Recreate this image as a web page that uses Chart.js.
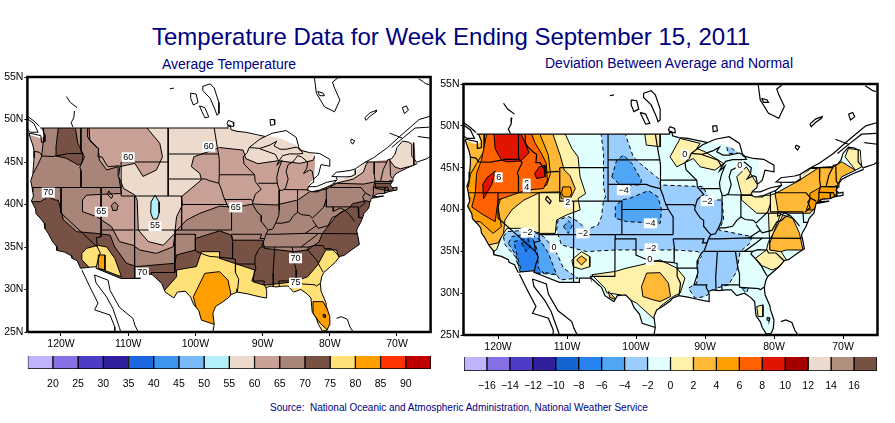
<!DOCTYPE html>
<html>
<head>
<meta charset="utf-8">
<title>Temperature Data for Week Ending September 15, 2011</title>
<script src="https://cdn.jsdelivr.net/npm/chart.js@4"></script>
<style>
  html, body { margin: 0; padding: 0; background: #fff; }
  body { width: 895px; height: 423px; position: relative; overflow: hidden; font-family: "Liberation Sans", Arial, sans-serif; color: #000080; }
  canvas { position: absolute; }
  .txt { position: absolute; white-space: pre; }
  #title { left: 152px; top: 23px; font-size: 24px; }
  #subLeft { left: 162px; top: 56px; font-size: 14px; }
  #subRight { left: 545px; top: 55px; font-size: 14px; }
  #source { left: 270px; top: 402px; font-size: 10px; }
</style>
</head>
<body>
<div class="txt" id="title">Temperature Data for Week Ending September 15, 2011</div>
<div class="txt" id="subLeft">Average Temperature</div>
<div class="txt" id="subRight">Deviation Between Average and Normal</div>
<div class="txt" id="source">Source:  National Oceanic and Atmospheric Administration, National Weather Service</div>
<canvas id="mapLeft" width="440" height="300" style="left:0;top:60px"></canvas>
<canvas id="mapRight" width="450" height="300" style="left:440px;top:60px"></canvas>
<canvas id="barLeft" width="445" height="40" style="left:0;top:350px"></canvas>
<canvas id="barRight" width="450" height="40" style="left:440px;top:350px"></canvas>
<script>
// axis ticks
const lonTicks = [-120, -110, -100, -90, -80, -70];
const latTicks = [25, 30, 35, 40, 45, 50, 55];

// colour bars
const tempBreaks = [15, 20, 25, 30, 35, 40, 45, 50, 55, 60, 65, 70, 75, 80, 85, 90, 95];
const tempColors = ["#bfb3fd", "#8770e6", "#4d3cc4", "#30209e", "#1c66e0", "#3c96f0", "#78b9fa", "#b4f0fa",
  "#ecdacd", "#c8a096", "#a98478", "#785145", "#ffe178", "#ffa000", "#ff3200", "#c00000"];
const devBreaks = [-18, -16, -14, -12, -10, -8, -6, -4, -2, 0, 2, 4, 6, 8, 10, 12, 14, 16, 18];
const devColors = ["#bfb3fd", "#8770e6", "#4d3cc4", "#30209e", "#1464d2", "#2882f0", "#50a5f5", "#9bcdff", "#e1ffff",
  "#fff0aa", "#ffb937", "#ffa000", "#ff6000", "#e11400", "#a50000", "#ecdacd", "#b0907f", "#785145"];

// coasts and borders, lon/lat
const pacificCoast = [[-124.7,48.2],[-124.6,47.9],[-124.2,47],[-124,46.3],[-124,45.5],[-124.1,44.5],[-124.2,43.5],[-124.5,42.8],[-124.3,42],[-124.2,41.5],[-124.1,41],[-124.4,40.4],[-123.8,39.5],[-123.7,38.9],[-123,38.3],[-122.5,37.8],[-122.4,37.2],[-121.9,36.6],[-121.3,35.7],[-120.7,35.1],[-120.6,34.6],[-119.5,34.4],[-118.5,34],[-118.4,33.7],[-117.6,33.4],[-117.1,32.5]];
const pacificNorth = [[-124.7,48.4],[-124.7,48.2]];
const mexicoBorder = [[-117.1,32.5],[-114.7,32.7],[-114.8,32.5],[-111.1,31.3],[-108.2,31.3],[-108.2,31.8],[-106.5,31.8],[-105,30.7],[-104.5,29.7],[-103.2,29],[-102.7,29.7],[-101.5,29.8],[-100.7,29.1],[-100.3,28.3],[-99.5,27.5],[-99.1,26.4],[-97.2,25.9]];
const gulfCoast = [[-97.2,25.9],[-97.4,27.2],[-97,28],[-96,28.5],[-95,29.1],[-94.7,29.4],[-93.8,29.7],[-92.3,29.5],[-91.3,29.3],[-90.2,29.1],[-89.4,29],[-89.4,29.9],[-89.5,30.2],[-88.9,30.4],[-88,30.3],[-87,30.4],[-86.2,30.4],[-85.4,29.7],[-84.3,30],[-83.4,29.5],[-82.8,29],[-82.7,28],[-82.6,27.3],[-82,26.6],[-81.7,25.9],[-81.1,25.1],[-80.4,25.2]];
const atlanticCoast = [[-80.4,25.2],[-80.1,25.8],[-80,26.8],[-80.5,28],[-80.6,28.5],[-81.3,29.8],[-81.4,30.7],[-81.2,31.5],[-80.9,32],[-79.9,32.7],[-79.2,33.2],[-78.5,33.9],[-77.9,34],[-76.7,34.7],[-75.6,35.3],[-75.8,36.2],[-76,36.9],[-75.9,37.2],[-75.4,37.9],[-75.1,38.5],[-74.9,38.95],[-74.2,39.6],[-74,40.4],[-73.9,40.7],[-72,41],[-73.7,40.9],[-72.9,41.25],[-71.9,41.3],[-71.3,41.5],[-70.7,41.6],[-70,41.7],[-70,42.05],[-70.6,41.95],[-71,42.3],[-70.7,42.7],[-70.6,43.1],[-70.2,43.6],[-69.5,43.9],[-68.5,44.3],[-67,44.8]];
const maskNorthEdge = [[-67.2,44.9],[-67.4,47.3],[-69.2,47.4],[-70.9,45.3],[-74.8,45],[-76.2,43.7],[-79,42.7],[-81,41.9],[-83,41.5],[-83.2,42.3],[-82.4,43],[-82.2,44.6],[-82.2,45.8],[-84,46.5],[-85,47],[-87.5,47.8],[-89,48],[-91,48.1],[-93,48.6],[-95.2,49],[-122.8,49],[-122.6,48],[-123.1,47.8],[-124.7,48.2]];
const maskFrame = [[-126,48.2],[-126,56],[-64,56],[-64,24],[-126,24],[-126,48.2],[-124.7,48.2]];
const canadaBorder = [[-67,44.9],[-67.4,45.3],[-67.8,45.7],[-67.8,47.1],[-68.3,47.35],[-69.2,47.45],[-70,46.7],[-70.3,45.9],[-70.8,45.4],[-71.4,45.25],[-71.5,45],[-74.7,45]];
const border49 = [[-95.15,48.95],[-95.15,49.35],[-94.8,49.3],[-94.7,48.8],[-93.8,48.6],[-92.5,48.5],[-90.8,48.2],[-89.6,48]];
const border49West = [[-95.15,49],[-123.1,49]];
const pugetSound = [[-122.8,49],[-122.4,48.2],[-122.4,47.4],[-122.9,47.3],[-123,48.1],[-124.7,48.4]];
const vancouverIsland = [[-125,50.1],[-124,49.5],[-123.4,48.5],[-124.5,48.5],[-125,48.8]];
const bcCoast = [[-123.2,49.2],[-124,49.8],[-125,50.4]];
const lakeOntario = [[-76.2,44.1],[-76.2,43.55],[-76.8,43.3],[-77.6,43.25],[-79.05,43.27],[-79.7,43.3],[-79,43.8],[-77,44],[-76.2,44.2],[-74.7,45]];
const lakeErie = [[-79.05,43.27],[-78.9,42.9],[-79.8,42.25],[-80.1,42.15],[-81.2,41.8],[-81.7,41.5],[-82.7,41.5],[-83.4,41.7],[-83.1,42.2],[-82.5,42.6],[-82.4,43]];
const lakeErieNorth = [[-83.1,42.1],[-82,42.1],[-80.5,42.6],[-79,42.85]];
const lakeHuronWest = [[-82.4,43],[-82.6,43.9],[-83,44.05],[-83.9,43.65],[-83.4,44.3],[-83.3,45],[-84.2,45.6],[-84.8,45.75]];
const lakeHuronEast = [[-82.4,43],[-81.7,43.5],[-81.3,44.7],[-80,44.5],[-80,45.3],[-81.5,46],[-83,46.1],[-84.5,46.4]];
const lakeMichigan = [[-84.8,45.75],[-85.1,45.4],[-85.5,45],[-86.2,44.7],[-86.5,43.9],[-86.2,43],[-86.6,41.9],[-87.1,41.65],[-87.5,41.7],[-87.8,42.4],[-87.9,43.2],[-87.6,44.2],[-87.1,45.2],[-87.9,44.6],[-87.6,45.1],[-87,45.75],[-86,45.95],[-84.8,45.95],[-84,46],[-84.4,46.5]];
const lakeSuperiorSouth = [[-84.4,46.5],[-85,46.75],[-86.5,46.5],[-87.4,46.5],[-88.3,46.9],[-87.9,47.45],[-88.9,47],[-90.4,46.6],[-92,46.7]];
const lakeSuperiorNorth = [[-92,46.7],[-90.4,47.7],[-89.6,48],[-88.5,48.4],[-86.5,48.7],[-85,47.9],[-84.7,47],[-84.5,46.4]];
const stLawrenceNorth = [[-74.7,45],[-73.5,45.5],[-71.4,46.7],[-69.6,48],[-66.7,50],[-65,50.4]];
const stLawrenceSouth = [[-70.8,46.7],[-69,47.9],[-67.3,49],[-65.2,49.1]];
const saguenay = [[-71.1,48.4],[-69.2,47.8]];
const chaleurBay = [[-66.9,48],[-65,47.8]];
const fundy = [[-67,45],[-65.5,45.4],[-65,45.7]];
const jamesBay = [[-82.3,55],[-82,53.1],[-80.8,51.5],[-79.3,50.9],[-78.5,52.3],[-79.3,53.7],[-79.6,54.4],[-78.8,54.9]];
const akimiski = [[-81.8,53.3],[-81,53.1],[-80.8,52.8],[-81.5,52.8],[-81.8,53.3]];
const lakeWinnipeg = [[-98.9,53.9],[-97.8,54.2],[-97.2,53.7],[-96.5,52],[-96.5,50.7],[-96.8,50.5],[-97,51],[-97.8,52.5],[-98.9,53.4],[-98.9,53.9]];
const lakeManitoba = [[-99.4,51.6],[-98.6,51.4],[-98,50.3],[-98.6,50.2],[-99,50.9],[-99.4,51.6]];
const lakeWinnipegosis = [[-100.7,53.1],[-99.9,53],[-99.6,52],[-100.3,51.7],[-100.7,52.5],[-100.7,53.1]];
const lakeOfTheWoods = [[-95.1,49.9],[-94.4,49.7],[-94.3,49.2],[-95,49.2],[-95.3,49.5],[-95.1,49.9]];
const lakeNipigon = [[-88.9,50],[-88.3,50],[-88.2,49.4],[-88.8,49.3],[-88.9,50]];
const lakeGouin = [[-76.8,47.7],[-76.3,47.5],[-76.6,47.1],[-76.9,47.4],[-76.8,47.7]];
const lakeMistassini = [[-74.8,50.2],[-74,50.8],[-73,51.1],[-73.1,50.9],[-74,50.4],[-74.6,49.9],[-74.8,50.2]];
const manicouagan = [[-69.2,51.4],[-68.6,51.6],[-68.3,51.1],[-68.9,50.7],[-69.2,51.4]];
const labradorLakes = [[-66.8,54.8],[-66.2,54.5],[-65.7,54.2],[-65.2,54.1]];
const arrowLakes = [[-119.2,52.7],[-118.6,52],[-117.6,51.4]];
const arrowLakesSouth = [[-118,51],[-118.1,50.2],[-118.5,49.6],[-118.2,49.1]];
const smallLake = [[-103.8,53.6],[-103.2,53.7]];
const greatSaltLake = [[-112.9,41.6],[-112.3,41],[-112.5,40.7],[-113.1,41.2],[-112.9,41.6]];
const okeechobee = [[-81,27.1],[-80.6,27],[-80.7,26.7],[-81,26.8],[-81,27.1]];
const bajaWest = [[-116.9,32.3],[-115.7,30.3],[-114.5,28.4],[-115,27.6],[-112.7,27],[-112,25.6],[-112,25]];
const bajaEast = [[-115,31.7],[-114.8,30.8],[-113.2,29.1],[-112.3,27.8],[-111.3,25.5],[-111.1,25]];
const mexicoWestCoast = [[-115,31.7],[-113,31.1],[-112.7,29.9],[-111.3,27.9],[-109.3,26.6],[-109,25.8],[-108.5,25]];
const mexicoGulf = [[-97.2,25.9],[-97.4,25]];
const bahamasA = [[-79,26.6],[-78.3,26.8],[-77.4,26.5],[-77,25.6],[-76.5,25]];

// state lines, lon/lat
const stateLines = [
  [[-124,46.25],[-123.2,46.15],[-122.8,45.7],[-121.2,45.65],[-119.3,45.93],[-119,46],[-116.92,46]],
  [[-117.03,49],[-117.04,46.4],[-116.92,46],[-116.5,45.6],[-117.2,44.4],[-117.03,44],[-117.03,42]],
  [[-124.2,42],[-111.05,42]],
  [[-120,42],[-120,39],[-114.6,35],[-114.15,34.3],[-114.5,33.5],[-114.72,32.72]],
  [[-114.04,42],[-114.04,36.2],[-114.74,36.1],[-114.6,35]],
  [[-114.04,37],[-94.62,37]],
  [[-109.05,41],[-109.05,31.33]],
  [[-111.05,45],[-104.05,45],[-104.05,41],[-111.05,41],[-111.05,45]],
  [[-116.05,49],[-116.05,48],[-115.7,47.5],[-114.8,46.8],[-114.4,46.6],[-114.5,45.6],[-113.9,45.6],[-113.4,44.9],[-113,44.45],[-111.5,44.55],[-111.05,44.5]],
  [[-104.05,49],[-104.05,45]],
  [[-104.05,45.94],[-96.56,45.94]],
  [[-104.05,43],[-98.5,43],[-97.9,42.8],[-96.5,42.5]],
  [[-104.05,41],[-102.05,41],[-102.05,37]],
  [[-102.05,40],[-95.3,40]],
  [[-103,37],[-103,36.5],[-100,36.5],[-100,34.56],[-99,34.2],[-97.9,33.9],[-96.5,33.8],[-94.48,33.64]],
  [[-103.04,36.5],[-103.06,32],[-106.6,32],[-106.53,31.78]],
  [[-94.48,33.64],[-94.04,33.55],[-94.04,32],[-93.55,31.2],[-93.7,30.1],[-93.8,29.7]],
  [[-94.04,33],[-91.15,33]],
  [[-94.62,36.5],[-94.43,35.4],[-94.48,33.64]],
  [[-94.62,36.5],[-90.15,36.5],[-90.37,36],[-89.7,36]],
  [[-94.62,37],[-94.62,39.1],[-95.3,40],[-95.85,41],[-96.1,41.7],[-96.5,42.5],[-96.45,43.5],[-96.45,45.3],[-96.56,45.94],[-96.8,47],[-97.2,49]],
  [[-95.77,40.58],[-91.73,40.6],[-91.42,40.38]],
  [[-96.45,43.5],[-91.2,43.5]],
  [[-92,46.7],[-92.3,46.1],[-92.9,45.6],[-92.75,44.75],[-91.2,43.5],[-91.1,42.7],[-90.2,41.8],[-91.1,41.2],[-91.42,40.38],[-91.5,40],[-90.7,39],[-90.2,38.7],[-90.2,38],[-89.5,37.3],[-89.15,37],[-89.5,36.5],[-89.7,36],[-90.1,35.1],[-90.6,34.7],[-91.1,33.9],[-91.15,33],[-91,32.5],[-91.6,31],[-89.75,31],[-89.8,30.6],[-89.5,30.2]],
  [[-90.64,42.5],[-87.8,42.5]],
  [[-90.4,46.55],[-88.1,45.9],[-87.6,45.1]],
  [[-87.53,41.7],[-87.53,39.3],[-87.6,38.7],[-88.05,37.8]],
  [[-89.15,37],[-88.5,37.1],[-88.05,37.8],[-87.1,37.8],[-86,38],[-85.4,38.7],[-84.8,39.1],[-84.2,38.8],[-83,38.7],[-82.6,38.4],[-81.8,39],[-80.9,39.7],[-80.52,40.64],[-80.52,42]],
  [[-84.8,39.1],[-84.8,41.76]],
  [[-86.8,41.76],[-83.4,41.73]],
  [[-79.76,42.27],[-79.76,42],[-75.35,42],[-74.7,41.36],[-73.9,41]],
  [[-74.7,41.36],[-75.1,40.9],[-74.75,40.2],[-75.5,39.7]],
  [[-80.52,39.72],[-75.8,39.72],[-75.7,38.46],[-75.05,38.45]],
  [[-80.52,40.64],[-80.52,39.72]],
  [[-79.48,39.72],[-79.48,39.2],[-78.4,39.6],[-77.7,39.3],[-77.05,38.8],[-76.3,38]],
  [[-77.7,39.3],[-78.4,39.1],[-78.9,38.7],[-79.6,38.5],[-80.3,37.5],[-81.7,37.2],[-82,37.5],[-82.6,38.2]],
  [[-82,37.5],[-83.68,36.6]],
  [[-75.9,36.55],[-81.7,36.59],[-83.68,36.6],[-88.05,36.5],[-89.5,36.5]],
  [[-81.7,36.59],[-82.6,36],[-84.3,35],[-90.1,35]],
  [[-84.3,35],[-83.1,35],[-82.3,35.2],[-81,35.15],[-80.8,34.8],[-79.7,34.8],[-78.55,33.87]],
  [[-83.1,35],[-83.35,34.7],[-82,33.5],[-81.4,32.6],[-81,32.05]],
  [[-85.6,35],[-85.2,32.9],[-85,32.3],[-85,30.7]],
  [[-87.6,31],[-85,31]],
  [[-85,30.7],[-84.86,30.7],[-82.2,30.55],[-82,30.4],[-81.45,30.7]],
  [[-88.2,35],[-88.45,31.9],[-88.4,30.3]],
  [[-87.6,31],[-87.5,30.3]],
  [[-73.35,45],[-73.4,43.6],[-73.25,42.75],[-73.5,42.05],[-73.5,41.3],[-73.65,41]],
  [[-73.5,42.05],[-71.8,42.02],[-71.38,42.02],[-71.2,41.5]],
  [[-73.25,42.75],[-71.3,42.7],[-70.8,42.87]],
  [[-71.5,45],[-72.05,44.1],[-72.45,42.73]],
  [[-71.05,45.3],[-70.97,43.4],[-70.7,43.07]],
  [[-71.8,42.02],[-71.85,41.32]]
];

// average temperature contours, lon/lat
const temp60Area = [[-115.9,50],[-66,50],[-66,42.7],[-70.6,42.7],[-73.05,42.7],[-75,42.4],[-79,42.5],[-80.5,41.8],[-83,41.5],[-84.75,40.53],[-88,39.94],[-91.4,40.06],[-94,39.67],[-96.4,39.8],[-99.35,38.96],[-101.3,38.18],[-102.97,36.8],[-103.3,35.04],[-105.8,34.25],[-108.3,34.65],[-109.26,35.2],[-111.3,35.63],[-112.5,37.4],[-114.7,38.57],[-116.8,39.16],[-116.8,40.53],[-116.2,41.1],[-113.7,41.2],[-111,41.3],[-111.4,43.3],[-111.5,44.45],[-113.2,44.06],[-114.3,45.24],[-114.45,46.6],[-115.7,47.6]];
const temp60Coast = [[-125.5,50],[-122.6,50],[-122.6,47.6],[-122.9,45.6],[-123.5,44.6],[-124.1,43.7],[-125.5,43.7]];
const temp65Utah = [[-112,40.3],[-111.5,39.9],[-111.7,39.3],[-112.3,39.3],[-112.5,39.9]];
const tempPaleNorth = [[-108.27,50],[-105.3,47.2],[-104.9,45.6],[-105.8,44.06],[-107.8,43.3],[-109,44.84],[-111.24,44.45],[-111.4,43.3],[-110.7,41.9],[-109,41.1],[-108.66,40.5],[-108.5,37],[-107,35.63],[-104.8,35.2],[-103.07,36.6],[-102.8,38.57],[-101.93,39.94],[-102.1,40.9],[-99.1,42.9],[-99.35,43.67],[-100.6,44.45],[-100.25,45.6],[-96.4,46.7],[-92.9,46.4],[-92.5,45.4],[-90.7,44.8],[-87.7,45.15],[-84.5,44.84],[-82.5,45.2],[-82,46],[-82,50]];
const tempPaleNY = [[-79.3,42.45],[-76.5,43],[-75,43.8],[-74.6,44.7],[-74.2,45.2],[-76,45],[-80,43]];
const tempPaleMaine = [[-71.1,45.2],[-69.4,47.5],[-67.5,47.5],[-67.5,44.6],[-69.5,44.2],[-70.3,44.4]];
const tempCyanOval = [[-106,41.1],[-105.4,40.3],[-105.4,39],[-105.7,38.3],[-106.3,38.3],[-106.65,39],[-106.6,40.3]];
const tempDarkNorthwest = [[-120.25,50],[-118.07,50],[-117.5,47.2],[-116.7,45.94],[-116.9,44.84],[-117.4,44.65],[-119.2,45.43],[-120.6,45.7],[-120.74,46.8]];
const tempDarkSouth = [[-123.1,40.33],[-121.9,40.9],[-120.9,40.53],[-120.4,40.5],[-119.65,38.2],[-117.67,36.8],[-114.7,36.6],[-112.7,36.4],[-112,35],[-110.25,33.08],[-108.76,32.7],[-107.3,32.8],[-103.07,33.08],[-102.8,34.06],[-100,34.65],[-100,36],[-96.4,36.9],[-94.7,36.4],[-94.4,35.8],[-90,35.8],[-89.7,34.84],[-85.3,34.45],[-83.3,34.65],[-81.6,35.6],[-81.1,36.6],[-78.9,38.77],[-77.1,39.6],[-76.6,40.1],[-74.6,40.45],[-73,40],[-72,38],[-72,24],[-127,24],[-127,40.33]];
const tempDarkNewEngland = [[-73.2,41.9],[-73.2,42.5],[-70.8,42.5],[-70.5,41.5]];
const tempYellowSouthwest = [[-116.9,34.25],[-116.2,34.84],[-114.5,35.2],[-113.2,35],[-112,33.67],[-111,31.5],[-113.7,32.3],[-115.7,32.5],[-116.9,33.5]];
const tempOrangeSouthwest = [[-114.45,34.06],[-113.46,34.06],[-113.46,32.3],[-114.45,32.5]];
const tempYellowGulf = [[-104.55,29.94],[-102.8,31.5],[-102.8,32.3],[-99.85,32.7],[-99.1,34.45],[-96.4,34.45],[-96.4,33.67],[-94.2,33.08],[-91.2,32.3],[-91.4,30.9],[-89.7,30.5],[-85.3,30.9],[-83.3,31.5],[-81.8,32.9],[-80.6,34.65],[-79,34.65],[-78.7,33.86],[-70,33],[-70,24],[-107,24],[-107,28]];
const tempOrangeTexas = [[-100.3,29.15],[-98.6,31.9],[-96.4,32.1],[-95.15,31.1],[-94.7,29.35],[-94.7,28],[-97,25],[-99,25]];
const tempOrangeFlorida = [[-82.5,28.57],[-81,28.57],[-79.5,26.4],[-80,25],[-81.4,26],[-82.5,27.2]];

// deviation contours, lon/lat
const devWarmWest = [[-110.8,50],[-109.3,47.3],[-108.4,46.3],[-108.1,43.9],[-107.3,41.9],[-108.4,41.3],[-108.1,39.95],[-110.05,39.35],[-111.5,38.75],[-111.7,37.15],[-113.9,37.15],[-116.3,37.75],[-118.7,37.75],[-119.5,36.75],[-120.2,35.2],[-121.5,34.5],[-126,34.5],[-126,50]];
const devAmberWest = [[-112.46,50],[-111,46.5],[-110.4,44.7],[-109.6,44.1],[-108.8,42.5],[-109.6,41.15],[-110.8,41.3],[-111,42.1],[-113.9,42.05],[-116.3,41.1],[-118,39.95],[-119,38.75],[-119.2,37.15],[-120,36],[-121.2,35.8],[-126,35.8],[-126,50]];
const devOrangeOval = [[-110.6,42.7],[-109.5,42.7],[-109.3,42],[-109.6,41.5],[-110.5,41.5],[-110.8,42]];
const devOrangeWest = [[-114.4,50],[-112.7,46.5],[-112.4,44.3],[-112.95,42.9],[-115.4,42.3],[-118.75,42],[-119.7,41.1],[-120,40.3],[-119.5,37.95],[-120.7,37.15],[-122.6,38.55],[-126,38.55],[-126,50]];
const devAmberCoast = [[-126,50],[-122,50],[-122,47],[-123.1,45.5],[-124,44.2],[-124.3,42.7],[-126,42.7]];
const devRedOrange = [[-121.4,50],[-122.4,45.9],[-123.1,44.3],[-123.3,41.9],[-123.8,40.3],[-122.1,39.35],[-120.4,38.55],[-120,41.14],[-115.85,42.33],[-113.4,42.5],[-112.85,43.5],[-113,45.5],[-113.7,46.7],[-114.6,47.9],[-115.6,50]];
const devRedNorth = [[-120.7,50],[-120.4,47.2],[-119.5,45.9],[-118.7,45.7],[-116.7,45.8],[-115.5,46.8],[-116.1,48],[-117.2,50]];
const devRedTip = [[-121.6,43.8],[-120.4,44.6],[-120.9,43],[-122.1,41.3],[-122.2,43]];
const devRedBlob = [[-114.7,44.3],[-114,45.1],[-113.2,45.3],[-113.2,43.9],[-114.4,43.7]];
const devYellowDakota = [[-98.9,50],[-96.5,50],[-96.5,47.5],[-98.5,47.7]];
const devBlueBig = [[-105.2,50],[-104.7,46.7],[-104.7,42.7],[-104.4,41.5],[-104.7,41.14],[-105,39.15],[-105.5,38.15],[-107.2,37.55],[-108.35,38.55],[-109.8,39.15],[-111.3,38.75],[-111.5,37.55],[-110.8,35.76],[-107.15,34.97],[-103,35.16],[-99.9,35.16],[-96.5,35.16],[-94.35,35.16],[-91,34.97],[-90.5,34.37],[-90.97,33.97],[-91.2,31.18],[-92.4,30.6],[-91.45,29.4],[-90,29.6],[-88.3,30.6],[-86.6,31],[-85.4,32.6],[-84.9,34.96],[-83.5,35.96],[-83.2,36.76],[-88,37.55],[-87.3,38.75],[-87.5,41.14],[-89.5,41.14],[-90.2,42.73],[-96.5,42.93],[-96.5,43.53],[-99.4,45.5],[-100.4,46.3],[-101.35,48.5],[-101.8,50]];
const devCentralOval = [[-103.5,43.9],[-102.8,45.9],[-101.8,46.5],[-100.6,45.5],[-99.2,43.5],[-99.4,42.93],[-102.3,42.93]];
const devCentralPatch = [[-100.9,41.34],[-98.2,42.25],[-96.8,41.5],[-96.3,39.95],[-96.5,38.35],[-101.35,38.55],[-103,38.95],[-103,40.34],[-102.1,41.14]];
const devColoradoOval = [[-110.5,37.95],[-109.8,38.67],[-109.2,38.15],[-109.8,37.15]];
const devSwLight = [[-119.2,36.76],[-118.7,37.36],[-115.4,37.55],[-113.4,36.76],[-111.7,35.16],[-110.5,32.97],[-108.4,31.8],[-111,31.58],[-111.5,32.2],[-116.8,32.6],[-117.5,34.37],[-119,35.8]];
const devSwMid = [[-118.5,35.96],[-118,36.76],[-115.4,37.15],[-113.9,36.36],[-112.7,34.77],[-111.5,32.2],[-113.9,32.6],[-116.8,32.6],[-117.4,34.57]];
const devSwDeep = [[-117.7,36.16],[-115.1,36.7],[-114.3,35.16],[-114.15,32.97],[-113.3,32.4],[-114.6,32.4],[-116.6,32.6],[-117.2,34.37]];
const devSwCore = [[-116.6,35.96],[-115.6,36.44],[-115.3,35.56],[-115.9,34.96]];
const devYellowTexas = [[-106.4,32.2],[-104.5,30.6],[-104.25,30.06],[-102.3,29.8],[-99.9,28.8],[-97.5,27],[-96.5,27],[-96.5,28.4],[-94.6,29.6],[-93.6,30],[-92.9,31.8],[-94.1,33],[-96.5,33.97],[-99.2,33.4],[-101.35,33],[-103,32.6]];
const devAmberTexas = [[-99.2,30.8],[-98.45,32.4],[-96.5,32.45],[-95.3,31.2],[-95,29.6],[-96.5,29],[-97.5,29.2],[-99,29.6]];
const devAmberBend = [[-104,30.2],[-102.8,29.2],[-103.8,29.5]];
const devBullYellow = [[-109.3,33.97],[-107.9,34.96],[-106.7,34.37],[-106.7,33.17],[-107.9,32.85],[-109.1,33.17]];
const devBullAmber = [[-108.6,33.97],[-107.9,34.45],[-107.15,33.97],[-107.9,33.37]];
const devYellowLakes = [[-95.07,46.3],[-93.6,48.5],[-90.7,47.9],[-91.2,47.3],[-90,46.9],[-87.3,45.5],[-88.55,44.7],[-90.7,45.1],[-91.7,46.1],[-94.1,45.1]];
const devBlueSuperior = [[-87,47.9],[-85.2,46.7],[-86.6,46.7]];
const devYellowMichigan = [[-85.4,43.9],[-84,45.1],[-82.5,43.1],[-81.8,42.5],[-82.8,41.7],[-84.7,41.7]];
const devYellowOhio = [[-84.7,41.7],[-80.6,41.7],[-79.9,41.9],[-79.4,41.14],[-79,39.55],[-80.8,39.55],[-82.5,39.55],[-84.7,41.14]];
const devYellowCarolina = [[-80.8,39.55],[-79,39.55],[-80.1,37.15],[-80.8,36.16],[-81.1,35.16],[-82.7,34.17],[-82,33.37],[-80.3,32.77],[-79.6,33],[-78.2,33.97],[-79,35],[-80.6,35.16]];
const devAmberNortheast = [[-79.85,41.9],[-76.7,43.3],[-73.3,45.1],[-71.4,45.1],[-70.2,45.7],[-68.2,44.7],[-70.2,43.9],[-70.9,42.73],[-70.9,41.14],[-73.3,40.34],[-74.3,39.95],[-74.8,39.55],[-77.7,39.55],[-79.4,39.75]];
const devOrangeNortheast = [[-74.8,41.93],[-73.1,42.73],[-70.9,42.73],[-70.9,41.93],[-71.4,41.34],[-73.3,41.2],[-74.3,39.95],[-75.3,39.95],[-74.8,41.13]];
const devYellowNY = [[-76.2,43.9],[-74.7,44.9],[-73.3,44.9],[-76.7,43.3]];
const devYellowMaine = [[-69.7,46.3],[-69.2,47.3],[-67.5,47.1],[-67.3,45.1],[-68.2,44.7]];
const devAmberVirginia = [[-80.6,35.96],[-80.1,37.15],[-78.7,39.35],[-77.3,38.95],[-76.3,37.15],[-75.8,35.16],[-78.2,35.16],[-79,34.96],[-80.6,35.16]];
const devYellowFlorida = [[-82.5,28.4],[-81.6,28.6],[-81.6,27.2],[-82.3,27.2]];
const devBluePanhandle = [[-84.7,30.6],[-83.7,30.6],[-84,30]];

// contour labels: lon, lat, text
const tempLabels = [[-110,45.55,"60"],[-98,46.8,"60"],[-121.9,41.4,"70"],[-114,39.15,"65"],[-106,37.47,"55"],[-94,39.67,"65"],[-107.9,32,"70"],[-85.1,33.67,"70"],[-85.1,30.8,"75"]];
const devLabels = [[-119.9,43.85,"6"],[-115.85,43.1,"6"],[-115.85,42.65,"4"],[-109.9,40.8,"2"],[-101.8,42.3,"\u22124"],[-97.9,38.35,"\u22124"],[-115.75,37.24,"\u22122"],[-107.7,37.15,"\u22122"],[-111.9,35.45,"0"],[-97.8,35.36,"\u22122"],[-98,33.97,"0"],[-89.66,41,"\u22122"],[-92.95,46.6,"0"],[-84.97,45.2,"0"]];

const toPoints = (pairs) => pairs.map(([x, y]) => ({ x, y }));

function region(pairs, color, dashed) {
  return {
    data: toPoints(pairs.concat([pairs[0]])),
    showLine: true,
    fill: "shape",
    backgroundColor: color,
    borderColor: "#000",
    borderWidth: 1,
    borderDash: dashed ? [4, 3] : [],
    pointRadius: 0,
    tension: 0,
  };
}

function lineOf(pairs, width) {
  return {
    data: toPoints(pairs),
    showLine: true,
    fill: false,
    borderColor: "#000",
    borderWidth: width,
    pointRadius: 0,
    tension: 0,
  };
}

const landRing = pacificCoast.concat(mexicoBorder, gulfCoast, atlanticCoast, maskNorthEdge, maskFrame);
const outerLines = [pacificNorth, pacificCoast, mexicoBorder, gulfCoast, atlanticCoast, canadaBorder, border49, border49West, pugetSound,
  vancouverIsland, bcCoast, lakeOntario, lakeErie, lakeErieNorth, lakeHuronWest, lakeHuronEast, lakeMichigan,
  lakeSuperiorSouth, lakeSuperiorNorth, stLawrenceNorth, stLawrenceSouth, saguenay, chaleurBay, fundy, jamesBay, akimiski,
  lakeWinnipeg, lakeManitoba, lakeWinnipegosis, lakeOfTheWoods, lakeNipigon, lakeGouin, lakeMistassini, manicouagan,
  labradorLakes, arrowLakes, arrowLakesSouth, smallLake, greatSaltLake, okeechobee, bajaWest, bajaEast, mexicoWestCoast,
  mexicoGulf, bahamasA];
const frameLine = [[-125, 25], [-125, 55], [-65, 55], [-65, 25], [-125, 25]];

function mapChart(id, regions, labels, layout) {
  const mask = region(landRing, "#fff", false);
  mask.borderWidth = 0;
  const frame = lineOf(frameLine, 2.5);
  frame.clip = false;
  const painted = regions.concat([mask], stateLines.map((l) => lineOf(l, layout.lineWidth)), outerLines.map((l) => lineOf(l, layout.lineWidth)), [frame]);
  return new Chart(document.getElementById(id), {
    type: "scatter",
    // chart.js paints the first dataset last
    data: { datasets: painted.reverse() },
    plugins: [{
      id: "contourLabels",
      afterDatasetsDraw(chart) {
        const { ctx, scales } = chart;
        ctx.save();
        ctx.font = '9px "Liberation Sans"';
        ctx.textAlign = "center";
        ctx.textBaseline = "middle";
        labels.forEach(([lon, lat, text]) => {
          const x = scales.x.getPixelForValue(lon);
          const y = scales.y.getPixelForValue(lat);
          const w = ctx.measureText(text).width + 3;
          ctx.fillStyle = "#fff";
          ctx.fillRect(x - w / 2, y - 5, w, 10);
          ctx.fillStyle = "#000";
          ctx.fillText(text, x, y);
        });
        ctx.restore();
      },
    }],
    options: {
      responsive: false,
      animation: false,
      events: [],
      layout: { padding: { top: layout.top, right: layout.right, left: 0, bottom: 0 } },
      plugins: { legend: { display: false }, tooltip: { enabled: false } },
      scales: {
        x: {
          type: "linear", min: -125, max: -65,
          afterBuildTicks: (s) => { s.ticks = lonTicks.map((value) => ({ value })); },
          afterFit: (s) => { s.height = layout.axisH; },
          grid: { drawOnChartArea: false, tickLength: 4, tickColor: "#000" },
          border: { display: false },
          ticks: { color: "#000", maxRotation: 0, font: { size: 10.5, family: "Liberation Sans" }, padding: 2, callback: (v) => Math.abs(v) + "W" },
        },
        y: {
          type: "linear", min: 25, max: 55,
          afterBuildTicks: (s) => { s.ticks = latTicks.map((value) => ({ value })); },
          afterFit: (s) => { s.width = layout.axisW; },
          grid: { drawOnChartArea: false, tickLength: 3, tickColor: "#000" },
          border: { display: false },
          ticks: { color: "#000", font: { size: 10.5, family: "Liberation Sans" }, padding: 1, callback: (v) => v + "N" },
        },
      },
    },
  });
}

function colorBar(id, breaks, colors, layout) {
  return new Chart(document.getElementById(id), {
    type: "bar",
    data: {
      labels: [""],
      datasets: colors.map((c, i) => ({
        data: [[breaks[i], breaks[i + 1]]],
        backgroundColor: c,
        borderColor: "#000",
        borderWidth: 1,
        borderSkipped: "top",
        grouped: false,
        barPercentage: 1,
        categoryPercentage: 1,
      })),
    },
    options: {
      indexAxis: "y",
      responsive: false,
      animation: false,
      events: [],
      layout: { padding: { top: layout.top, right: layout.right, left: layout.left, bottom: 0 } },
      plugins: { legend: { display: false }, tooltip: { enabled: false } },
      scales: {
        x: {
          type: "linear", min: breaks[0], max: breaks[breaks.length - 1],
          afterBuildTicks: (s) => { s.ticks = breaks.slice(1, -1).map((value) => ({ value })); },
          afterFit: (s) => { s.height = layout.axisH; },
          grid: { display: false },
          border: { display: false },
          ticks: { color: "#000", maxRotation: 0, autoSkip: false, font: { size: 10.5, family: "Liberation Sans" }, padding: 1, callback: (v) => String(v).replace("-", "\u2212") },
        },
        y: { display: false },
      },
    },
  });
}

const tempBase = [[-127,24],[-60,24],[-60,52],[-127,52]];
mapChart("mapLeft", [
  region(tempBase, "#a98478"),
  region(temp60Area, "#c8a096"),
  region(temp60Coast, "#c8a096"),
  region(temp65Utah, "#a98478"),
  region(tempPaleNorth, "#ecdacd"),
  region(tempPaleNY, "#ecdacd"),
  region(tempPaleMaine, "#ecdacd"),
  region(tempCyanOval, "#b4f0fa"),
  region(tempDarkNorthwest, "#785145"),
  region(tempDarkSouth, "#785145"),
  region(tempDarkNewEngland, "#785145"),
  region(tempYellowSouthwest, "#ffe178"),
  region(tempOrangeSouthwest, "#ffa000"),
  region(tempYellowGulf, "#ffe178"),
  region(tempOrangeTexas, "#ffa000"),
  region(tempOrangeFlorida, "#ffa000"),
], tempLabels, { top: 17, right: 9.4, axisW: 27.4, axisH: 28, lineWidth: 1 });

const devBase = [[-127,24],[-60,24],[-60,52],[-127,52]];
mapChart("mapRight", [
  region(devBase, "#e1ffff"),
  region(devWarmWest, "#fff0aa"),
  region(devYellowDakota, "#fff0aa"),
  region(devYellowTexas, "#fff0aa"),
  region(devYellowLakes, "#fff0aa"),
  region(devYellowMichigan, "#fff0aa"),
  region(devYellowOhio, "#fff0aa"),
  region(devYellowCarolina, "#fff0aa"),
  region(devYellowNY, "#fff0aa"),
  region(devYellowMaine, "#fff0aa"),
  region(devYellowFlorida, "#fff0aa"),
  region(devAmberWest, "#ffb937"),
  region(devOrangeOval, "#ffa000"),
  region(devOrangeWest, "#ffa000"),
  region(devAmberCoast, "#ffb937"),
  region(devRedOrange, "#ff6000"),
  region(devRedNorth, "#e11400"),
  region(devRedTip, "#e11400"),
  region(devRedBlob, "#e11400"),
  region(devBlueBig, "#9bcdff", true),
  region(devCentralOval, "#50a5f5", true),
  region(devCentralPatch, "#50a5f5", true),
  region(devColoradoOval, "#50a5f5", true),
  region(devSwLight, "#9bcdff", true),
  region(devSwMid, "#50a5f5", true),
  region(devSwDeep, "#2882f0", true),
  region(devSwCore, "#1464d2", true),
  region(devAmberTexas, "#ffb937"),
  region(devAmberBend, "#ffb937"),
  region(devBullYellow, "#fff0aa"),
  region(devBullAmber, "#ffb937"),
  region(devBlueSuperior, "#9bcdff", true),
  region(devAmberNortheast, "#ffb937"),
  region(devOrangeNortheast, "#ffa000"),
  region(devAmberVirginia, "#ffb937"),
  region(devBluePanhandle, "#9bcdff", true),
], devLabels, { top: 24, right: 12.5, axisW: 23.5, axisH: 25, lineWidth: 1.2 });

colorBar("barLeft", tempBreaks, tempColors, { top: 6, left: 27.7, right: 14, axisH: 21 });
colorBar("barRight", devBreaks, devColors, { top: 7, left: 24, right: 13, axisH: 19 });
</script>
</body>
</html>
